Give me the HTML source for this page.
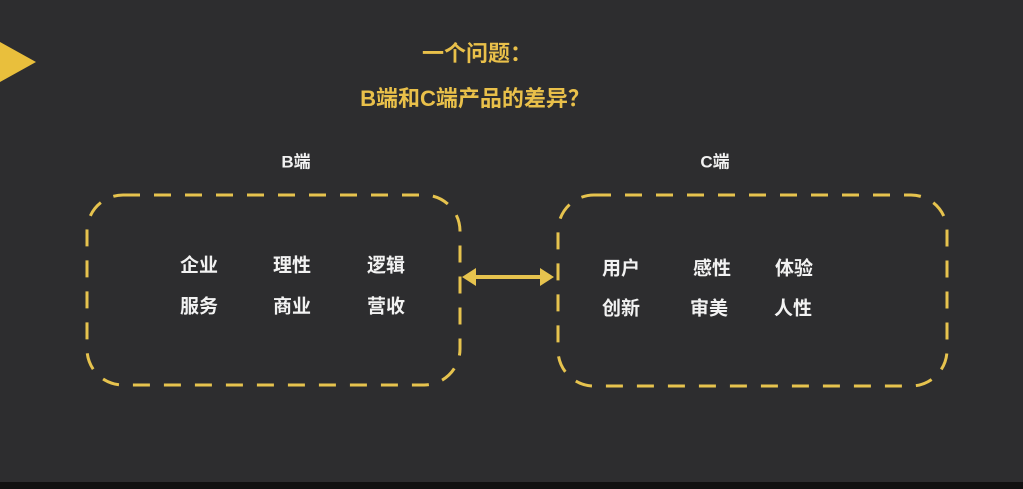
<!DOCTYPE html>
<html><head><meta charset="utf-8"><style>
body{margin:0;width:1023px;height:489px;background:#2d2d2f;overflow:hidden;position:relative;font-family:"Liberation Sans","Noto Sans CJK SC",sans-serif;font-weight:bold}
.t{position:absolute;white-space:nowrap;transform:translate(-50%,-50%)}
.y{color:#e9c04a;font-size:22px}
.w{color:#f2f2f2;font-size:19px}
</style></head><body>
<svg width="1023" height="489" style="position:absolute;left:0;top:0">
<polygon points="0,42 36,62 0,82" fill="#e9bf3c"/>
<rect x="87" y="195" width="373" height="190" rx="36" fill="none" stroke="#e6c34e" stroke-width="3" stroke-dasharray="17,14"/>
<rect x="558" y="195" width="389" height="191" rx="36" fill="none" stroke="#e6c34e" stroke-width="3" stroke-dasharray="17,14"/>
<line x1="470" y1="277" x2="545" y2="277" stroke="#e6c34e" stroke-width="4"/>
<polygon points="462,277 476,268 476,286" fill="#e6c34e"/>
<polygon points="554,277 540,268 540,286" fill="#e6c34e"/>
<rect x="0" y="482" width="1023" height="7" fill="#111"/>
</svg>
<div class="t y" style="left:477px;top:52px">一个问题：</div>
<div class="t y" style="left:475px;top:97px">B端和C端产品的差异？</div>
<div class="t w" style="left:296px;top:160px;font-size:17px">B端</div>
<div class="t w" style="left:715px;top:160px;font-size:17px">C端</div>
<div class="t w" style="left:199px;top:264px">企业</div>
<div class="t w" style="left:292px;top:264px">理性</div>
<div class="t w" style="left:386px;top:264px">逻辑</div>
<div class="t w" style="left:199px;top:305px">服务</div>
<div class="t w" style="left:292px;top:305px">商业</div>
<div class="t w" style="left:386px;top:305px">营收</div>
<div class="t w" style="left:621px;top:267px">用户</div>
<div class="t w" style="left:712px;top:267px">感性</div>
<div class="t w" style="left:794px;top:267px">体验</div>
<div class="t w" style="left:621px;top:307px">创新</div>
<div class="t w" style="left:709px;top:307px">审美</div>
<div class="t w" style="left:793px;top:307px">人性</div>
</body></html>
